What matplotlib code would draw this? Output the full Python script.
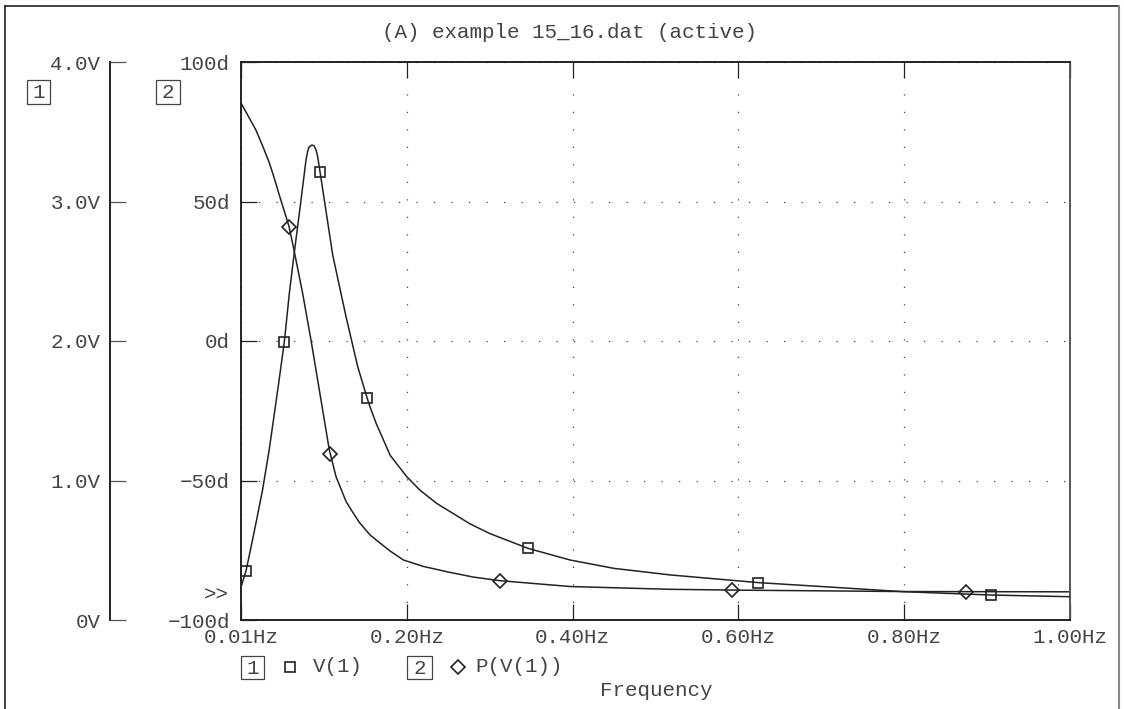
import matplotlib.pyplot as plt
from matplotlib.lines import Line2D
from matplotlib.patches import Rectangle

plt.rcParams['font.family'] = ['Liberation Mono', 'DejaVu Sans Mono']

# V(1) magnitude (volts)
v_freq = [0.0, 0.006, 0.012, 0.018, 0.026, 0.034, 0.0443, 0.0523, 0.0583, 0.064, 0.0724,
          0.0784, 0.0804, 0.082, 0.0856, 0.088, 0.0905, 0.0925, 0.0953, 0.1005, 0.1106,
          0.1267, 0.1408, 0.152, 0.1556, 0.163, 0.18, 0.2, 0.216, 0.236, 0.276, 0.3,
          0.346, 0.397, 0.45, 0.518, 0.624, 0.7, 0.799, 0.905, 1.0]
v_mag = [0.237, 0.351, 0.52, 0.693, 0.932, 1.22, 1.649, 1.995, 2.342, 2.62, 3.011,
         3.297, 3.36, 3.39, 3.405, 3.40, 3.37, 3.321, 3.214, 3.011, 2.617,
         2.174, 1.816, 1.594, 1.529, 1.41, 1.18, 1.027, 0.93, 0.836, 0.69, 0.62,
         0.514, 0.43, 0.37, 0.323, 0.268, 0.24, 0.203, 0.179, 0.167]

# P(V(1)) phase (degrees)
p_freq = [0.0, 0.008, 0.018, 0.026, 0.034, 0.04, 0.046, 0.058, 0.064, 0.0744, 0.0844,
          0.0945, 0.1065, 0.1146, 0.1267, 0.135, 0.1427, 0.1556, 0.163, 0.18, 0.196,
          0.22, 0.25, 0.28, 0.312, 0.397, 0.518, 0.6, 0.8, 1.0]
p_deg = [85.3, 81.0, 75.6, 70.0, 64.0, 58.5, 52.5, 41.0, 32.5, 17.0, 0.4,
         -17.6, -39.0, -48.6, -57.5, -61.5, -65.0, -69.5, -71.3, -75.3, -78.5,
         -80.8, -82.8, -84.6, -85.9, -88.0, -89.0, -89.3, -89.8, -89.9]

# marker symbols placed along the traces
sq_freq = [0.006, 0.0523, 0.0953, 0.152, 0.346, 0.624, 0.905]
sq_val = [0.351, 1.995, 3.214, 1.594, 0.514, 0.268, 0.179]
dm_freq = [0.058, 0.1077, 0.312, 0.592, 0.874]
dm_val = [41.0, -40.5, -85.9, -89.2, -89.8]

x_ticks = [0.0, 0.2, 0.4, 0.6, 0.8, 1.0]
x_labels = ['0.01Hz', '0.20Hz', '0.40Hz', '0.60Hz', '0.80Hz', '1.00Hz']
p_ticks = [-100, -50, 0, 50, 100]
p_labels = ['\u2212100d', '\u221250d', '0d', '50d', '100d']
v_ticks = [0, 1, 2, 3, 4]
v_labels = ['0V', '1.0V', '2.0V', '3.0V', '4.0V']

FW, FH = 1124, 709
ink = '#222222'
txt = '#444444'
fs = 15


def px(x, y):
    return x / FW, 1 - y / FH


fig = plt.figure(figsize=(FW / 100, FH / 100), dpi=100)
L, B, W, H = 241 / FW, 89 / FH, 829 / FW, 558 / FH

ax = fig.add_axes([L, B, W, H])
ax.set_xlim(0, 1.0)
ax.set_ylim(-100, 100)
ax.set_xticks(x_ticks)
ax.set_xticklabels(x_labels)
ax.set_yticks(p_ticks)
ax.set_yticklabels(p_labels)
ax.tick_params(direction='in', length=11.5, width=0.9, color=ink, labelcolor=txt,
               labelsize=fs, top=True, bottom=True, left=True, right=False)
ax.tick_params(axis='x', pad=6)
ax.tick_params(axis='y', pad=8)
ax.grid(True, linestyle=(0, (1, 13)), color='#444444', linewidth=0.9)
for s in ax.spines.values():
    s.set_linewidth(1.4)
    s.set_color(ink)
ax.spines['right'].set_color('#555555')

ax.plot(p_freq, p_deg, color=ink, lw=1.1)
ax.plot(dm_freq, dm_val, ls='none', marker='D', ms=7.5, mfc='none', mec=ink, mew=1.2)

twin = ax.twinx()
twin.set_ylim(0, 4)
twin.set_axis_off()
twin.plot(v_freq, v_mag, color=ink, lw=1.1)
twin.plot(sq_freq, sq_val, ls='none', marker='s', ms=7, mfc='none', mec=ink, mew=1.2)

# separate scale for trace 1
axv = fig.add_axes([110 / FW, B, 1e-4, H])
axv.set_ylim(0, 4)
axv.set_yticks(v_ticks)
axv.set_yticklabels(v_labels)
axv.set_xticks([])
axv.patch.set_visible(False)
for k in ['top', 'right', 'bottom']:
    axv.spines[k].set_visible(False)
axv.spines['left'].set_linewidth(1.4)
axv.spines['left'].set_color(ink)
axv.tick_params(axis='y', direction='in', length=11.5, width=0.9, color='#555555',
                labelcolor=txt, labelsize=fs, pad=7)

# outer window frame
fig.add_artist(Line2D([5 / FW, 5 / FW], [0, 1 - 6 / FH], transform=fig.transFigure, color=ink, lw=1.2))
fig.add_artist(Line2D([5 / FW, 1119 / FW], [1 - 6 / FH, 1 - 6 / FH], transform=fig.transFigure, color=ink, lw=1.2))
fig.add_artist(Line2D([1119 / FW, 1119 / FW], [0, 1 - 6 / FH], transform=fig.transFigure, color='#888888', lw=1.5))

fig.text(*px(569, 33), '(A) example 15_16.dat (active)', ha='center', va='center',
         fontsize=fs, color=txt)


def boxed(x0, y0, x1, y1, s):
    a, b = px(x0, y1)
    fig.add_artist(Rectangle((a, b), (x1 - x0) / FW, (y1 - y0) / FH, transform=fig.transFigure,
                             fill=False, ec='#444444', lw=0.9))
    fig.text(*px((x0 + x1) / 2, (y0 + y1) / 2 + 1), s, ha='center', va='center',
             fontsize=fs, color=txt)


boxed(27, 80, 50, 104, '1')
boxed(156, 80, 180, 104, '2')
boxed(241, 656, 264, 679, '1')
boxed(407, 656, 432, 679, '2')

fig.add_artist(Line2D([290 / FW], [1 - 667 / FH], transform=fig.transFigure, marker='s',
                      ms=7, mfc='none', mec=ink, mew=1.2, ls='none'))
fig.add_artist(Line2D([458 / FW], [1 - 667 / FH], transform=fig.transFigure, marker='D',
                      ms=7.5, mfc='none', mec=ink, mew=1.2, ls='none'))
fig.text(*px(313, 667), 'V(1)', ha='left', va='center', fontsize=fs, color=txt)
fig.text(*px(475, 667), 'P(V(1))', ha='left', va='center', fontsize=fs, color=txt)
fig.text(*px(656, 690), 'Frequency', ha='center', va='center', fontsize=fs, color=txt)
fig.text(*px(229, 595), '>>', ha='right', va='center', fontsize=fs, color=txt)

fig.savefig('out.png', dpi=100)
